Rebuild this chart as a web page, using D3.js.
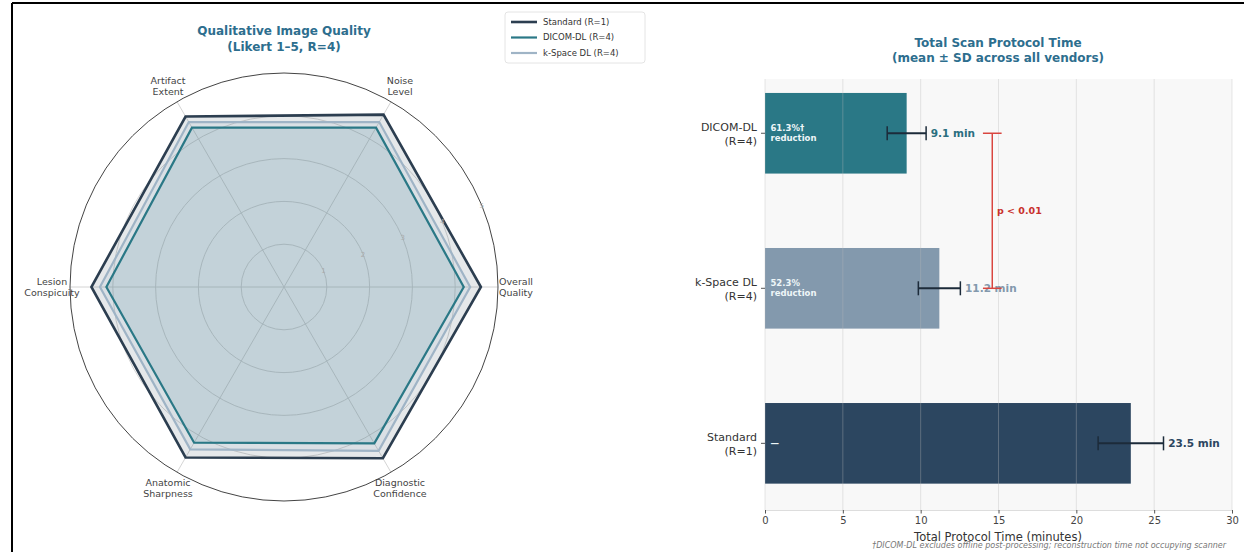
<!DOCTYPE html>
<html>
<head>
<meta charset="utf-8">
<script src="https://cdn.jsdelivr.net/npm/d3@7"></script>
<style>
  html, body { margin: 0; padding: 0; background: #fff; }
  svg { display: block; font-family: "DejaVu Sans", sans-serif; }
</style>
</head>
<body>
<svg id="fig" width="1244" height="552"></svg>
<script>
// ---- Radar: qualitative image quality (Likert 1–5) ----
const radarAxes = [
  ["Overall", "Quality"],
  ["Noise", "Level"],
  ["Artifact", "Extent"],
  ["Lesion", "Conspicuity"],
  ["Anatomic", "Sharpness"],
  ["Diagnostic", "Confidence"]
];
const radarSeries = ["Standard (R=1)", "DICOM-DL (R=4)", "k-Space DL (R=4)"];
const standardScores = [4.6, 4.65, 4.6, 4.5, 4.6, 4.62];
const dicomScores    = [4.2, 4.3, 4.3, 4.15, 4.2, 4.22];
const kspaceScores   = [4.35, 4.45, 4.45, 4.3, 4.38, 4.42];
const radarTicks = [1, 2, 3, 4, 5];

// ---- Bars: total scan protocol time ----
const protocolNames = [["Standard", "(R=1)"], ["k-Space DL", "(R=4)"], ["DICOM-DL", "(R=4)"]];
const protocolMean = [23.5, 11.2, 9.1];
const protocolSD = [2.1, 1.35, 1.25];
const reductionText = [["—"], ["52.3%", "reduction"], ["61.3%†", "reduction"]];
const timeTicks = [0, 5, 10, 15, 20, 25, 30];

const svg = d3.select("#fig");
const titleColor = "#2d6e8e";
const seriesColors = ["#2c3e50", "#2a7886", "#9fb4c6"];
const fillOpacity = [0.12, 0.14, 0.14];
const lineWidths = [2.6, 2.2, 2.2];

// figure frame
svg.append("line").attr("x1", 12).attr("x2", 1244).attr("y1", 3).attr("y2", 3)
  .attr("stroke", "#000").attr("stroke-width", 2);
svg.append("line").attr("x1", 12).attr("x2", 12).attr("y1", 3).attr("y2", 552)
  .attr("stroke", "#000").attr("stroke-width", 2);

// ================= radar =================
const cx = 284, cy = 287, R = 214;
const r = d3.scaleLinear().domain([0, 5]).range([0, R]);
const angle = i => i * Math.PI / 3; // counter-clockwise from 3 o'clock
const radar = svg.append("g").attr("transform", `translate(${cx},${cy})`);

// rings
radar.selectAll("circle.ring").data(radarTicks.slice(0, -1)).join("circle")
  .attr("r", d => r(d)).attr("fill", "none").attr("stroke", "#cfcfcf").attr("stroke-width", 0.9);
// spokes
radar.selectAll("line.spoke").data(radarAxes).join("line")
  .attr("x1", 0).attr("y1", 0)
  .attr("x2", (d, i) => R * Math.cos(angle(i)))
  .attr("y2", (d, i) => -R * Math.sin(angle(i)))
  .attr("stroke", "#cfcfcf").attr("stroke-width", 0.9);

const radial = d3.lineRadial()
  .angle((d, i) => Math.PI / 2 - angle(i))
  .radius(d => r(d))
  .curve(d3.curveLinearClosed);

const scoreSets = [standardScores, dicomScores, kspaceScores];
scoreSets.forEach((s, k) => {
  radar.append("path").attr("d", radial(s))
    .attr("fill", seriesColors[k]).attr("fill-opacity", fillOpacity[k]).attr("stroke", "none");
});
scoreSets.forEach((s, k) => {
  radar.append("path").attr("d", radial(s))
    .attr("fill", "none").attr("stroke", seriesColors[k])
    .attr("stroke-width", lineWidths[k]).attr("stroke-linejoin", "miter");
});

// outer circle
radar.append("circle").attr("r", R).attr("fill", "none").attr("stroke", "#444").attr("stroke-width", 1);

// radial tick labels
const rlabAngle = 22.5 * Math.PI / 180;
radar.selectAll("text.rtick").data(radarTicks).join("text")
  .attr("x", d => r(d) * Math.cos(rlabAngle))
  .attr("y", d => -r(d) * Math.sin(rlabAngle))
  .attr("text-anchor", "middle").attr("dy", "0.35em")
  .attr("font-size", 7).attr("fill", "#aaa")
  .text(d => d);

// axis labels
const labR = 232;
radarAxes.forEach((lines, i) => {
  const t = radar.append("text")
    .attr("x", labR * Math.cos(angle(i)))
    .attr("y", -labR * Math.sin(angle(i)))
    .attr("text-anchor", "middle").attr("font-size", 9.5).attr("fill", "#444");
  lines.forEach((ln, j) => {
    t.append("tspan").attr("x", labR * Math.cos(angle(i)))
      .attr("dy", j === 0 ? "-0.25em" : "1.2em").text(ln);
  });
});

// radar title
const rt = svg.append("text").attr("x", cx).attr("y", 35).attr("text-anchor", "middle")
  .attr("font-size", 12).attr("font-weight", "bold").attr("fill", titleColor);
rt.append("tspan").attr("x", cx).text("Qualitative Image Quality");
rt.append("tspan").attr("x", cx).attr("dy", 16).text("(Likert 1–5, R=4)");

// legend
const lg = svg.append("g").attr("transform", "translate(505,12)");
lg.append("rect").attr("width", 140).attr("height", 51).attr("rx", 3)
  .attr("fill", "#fff").attr("stroke", "#ddd").attr("stroke-width", 0.8);
radarSeries.forEach((name, k) => {
  const yy = 10 + k * 15.5;
  lg.append("line").attr("x1", 6).attr("x2", 32).attr("y1", yy).attr("y2", yy)
    .attr("stroke", seriesColors[k]).attr("stroke-width", lineWidths[k]);
  lg.append("text").attr("x", 38).attr("y", yy).attr("dy", "0.35em")
    .attr("font-size", 8.5).attr("fill", "#333").text(name);
});

// ================= bar chart =================
const x = d3.scaleLinear().domain([0, 30]).range([765, 1232]);
const y = d3.scaleLinear().domain([-0.43, 2.35]).range([510, 79]);
const barH = 0.52;
const barColors = ["#2c4660", "#8399ad", "#2a7886"];
const valueColors = ["#2c4660", "#8399ad", "#2a6f80"];

svg.append("rect").attr("x", x(0)).attr("y", y(2.35))
  .attr("width", x(30) - x(0)).attr("height", y(-0.43) - y(2.35))
  .attr("fill", "#f8f8f8");

const bars = svg.append("g");
bars.selectAll("rect").data(protocolMean).join("rect")
  .attr("x", x(0))
  .attr("y", (d, i) => y(i + barH / 2))
  .attr("width", d => x(d) - x(0))
  .attr("height", y(0) - y(barH))
  .attr("fill", (d, i) => barColors[i]);

// grid on top, faint
svg.append("g").selectAll("line").data(timeTicks).join("line")
  .attr("x1", d => x(d)).attr("x2", d => x(d))
  .attr("y1", y(2.35)).attr("y2", y(-0.43))
  .attr("stroke", "#bbb").attr("stroke-opacity", 0.35).attr("stroke-width", 1);

// error bars
const eb = svg.append("g").attr("stroke", "#1c2b3a").attr("stroke-width", 2);
protocolMean.forEach((m, i) => {
  const yy = y(i);
  eb.append("line").attr("x1", x(m - protocolSD[i])).attr("x2", x(m + protocolSD[i]))
    .attr("y1", yy).attr("y2", yy);
  [m - protocolSD[i], m + protocolSD[i]].forEach(v => {
    eb.append("line").attr("x1", x(v)).attr("x2", x(v)).attr("y1", yy - 7).attr("y2", yy + 7)
      .attr("stroke-width", 1.5);
  });
});

// value labels
protocolMean.forEach((m, i) => {
  svg.append("text").attr("x", x(m + protocolSD[i] + 0.3)).attr("y", y(i)).attr("dy", "0.35em")
    .attr("font-size", 10.5).attr("font-weight", "bold").attr("fill", valueColors[i])
    .text(`${m.toFixed(1)} min`);
});

// reduction labels inside bars
reductionText.forEach((lines, i) => {
  const t = svg.append("text").attr("x", x(0.35)).attr("y", y(i))
    .attr("font-size", 8.5).attr("font-weight", "bold").attr("fill", "#eef6f8");
  lines.forEach((ln, j) => {
    t.append("tspan").attr("x", x(0.35))
      .attr("dy", lines.length === 1 ? "0.35em" : (j === 0 ? "-0.25em" : "1.15em")).text(ln);
  });
});

// significance bracket between DICOM-DL and k-Space DL
const sigX = 14.6;
const sig = svg.append("g").attr("stroke", "#d9453f").attr("stroke-width", 1.5);
sig.append("line").attr("x1", x(sigX)).attr("x2", x(sigX)).attr("y1", y(2)).attr("y2", y(1));
[2, 1].forEach(v => sig.append("line").attr("x1", x(sigX - 0.6)).attr("x2", x(sigX + 0.6))
  .attr("y1", y(v)).attr("y2", y(v)));
svg.append("text").attr("x", x(sigX + 0.3)).attr("y", y(1.5)).attr("dy", "0.35em")
  .attr("font-size", 9.5).attr("font-weight", "bold").attr("fill", "#c9302c").text("p < 0.01");

// x axis
const xa = svg.append("g").attr("transform", `translate(0,${y(-0.43)})`)
  .call(d3.axisBottom(x).tickValues(timeTicks).tickSize(3.5).tickPadding(3));
xa.select(".domain").attr("stroke", "#ddd");
xa.selectAll(".tick line").attr("stroke", "#555");
xa.selectAll(".tick text").attr("font-size", 10).attr("fill", "#444")
  .attr("font-family", "DejaVu Sans, sans-serif");

// category labels
protocolNames.forEach((lines, i) => {
  svg.append("line").attr("x1", x(0) - 4).attr("x2", x(0)).attr("y1", y(i)).attr("y2", y(i))
    .attr("stroke", "#555");
  const t = svg.append("text").attr("x", x(0) - 8).attr("y", y(i))
    .attr("text-anchor", "end").attr("font-size", 11).attr("fill", "#333");
  lines.forEach((ln, j) => {
    t.append("tspan").attr("x", x(0) - 8).attr("dy", j === 0 ? "-0.2em" : "1.25em").text(ln);
  });
});

// bar title
const bt = svg.append("text").attr("x", 998).attr("y", 47).attr("text-anchor", "middle")
  .attr("font-size", 12).attr("font-weight", "bold").attr("fill", titleColor);
bt.append("tspan").attr("x", 998).text("Total Scan Protocol Time");
bt.append("tspan").attr("x", 998).attr("dy", 15).text("(mean ± SD across all vendors)");

// footnote, drawn beneath the axis title
svg.append("text").attr("x", 1226).attr("y", 548).attr("text-anchor", "end")
  .attr("font-size", 8).attr("font-style", "italic").attr("fill", "#777")
  .text("†DICOM-DL excludes offline post-processing; reconstruction time not occupying scanner");
svg.append("text").attr("x", 998).attr("y", 541).attr("text-anchor", "middle")
  .attr("font-size", 11.5).attr("fill", "#333").text("Total Protocol Time (minutes)");
</script>
</body>
</html>
